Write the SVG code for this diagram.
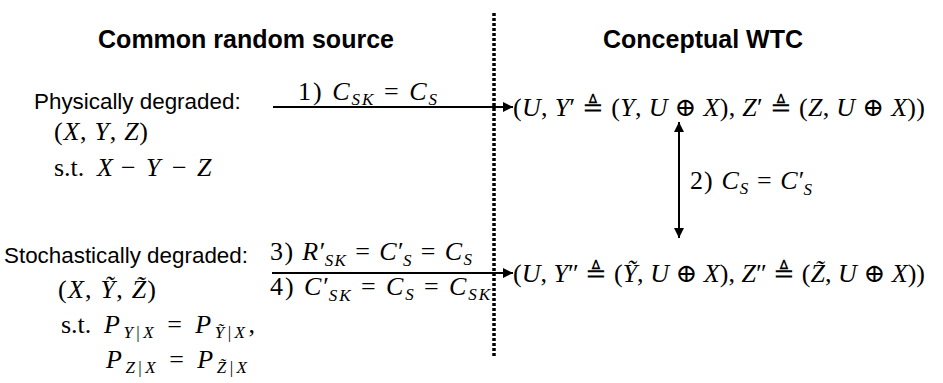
<svg xmlns="http://www.w3.org/2000/svg" width="943" height="383" viewBox="0 0 943 383">
<style>
.title{font-family:"Liberation Sans",Arial,sans-serif;font-weight:bold;font-size:25px;fill:#000}
.lbl{font-family:"Liberation Sans",Arial,sans-serif;font-size:22.4px;fill:#000}
.m{font-family:"Liberation Serif","DejaVu Serif",serif;font-size:26px;fill:#000}
.i{font-style:italic}
.s{font-size:17px}
.conn{stroke:#000;stroke-width:2;fill:none}
.dot{stroke:#000;stroke-width:3.5;stroke-dasharray:3 2;fill:none}
</style>
<defs>
<marker id="ah" viewBox="0 0 10 10" refX="10" refY="5" markerWidth="5" markerHeight="5" orient="auto-start-reverse" markerUnits="strokeWidth">
<path d="M0,0 L10,5 L0,10 z" fill="#000"/>
</marker>
</defs>
<rect width="943" height="383" fill="#fff"/>

<g id="titles">
<text class="title" x="246" y="48" text-anchor="middle">Common random source</text>
<text class="title" x="703" y="48" text-anchor="middle">Conceptual WTC</text>
</g>

<g id="divider">
<line class="dot" x1="494" y1="13" x2="494" y2="358"/>
</g>

<g id="connectors">
<line class="conn" x1="273" y1="107" x2="513" y2="107" marker-end="url(#ah)"/>
<line class="conn" x1="272" y1="273" x2="513" y2="273" marker-end="url(#ah)"/>
<line class="conn" x1="679" y1="122" x2="679" y2="238" marker-start="url(#ah)" marker-end="url(#ah)"/>
<text class="m" x="298" y="100" textLength="139">1) <tspan class="i">C</tspan><tspan class="s i" dy="5">SK</tspan><tspan dy="-5"> = </tspan><tspan class="i">C</tspan><tspan class="s i" dy="5">S</tspan></text>
<text class="m" x="270" y="260" textLength="202">3) <tspan class="i">R</tspan>′<tspan class="s i" dy="6" dx="-2">SK</tspan><tspan dy="-6"> = </tspan><tspan class="i">C</tspan>′<tspan class="s i" dy="6" dx="-2">S</tspan><tspan dy="-6"> = </tspan><tspan class="i">C</tspan><tspan class="s i" dy="5">S</tspan></text>
<text class="m" x="270" y="295" textLength="220">4) <tspan class="i">C</tspan>′<tspan class="s i" dy="6" dx="-2">SK</tspan><tspan dy="-6"> = </tspan><tspan class="i">C</tspan><tspan class="s i" dy="5">S</tspan><tspan dy="-5"> = </tspan><tspan class="i">C</tspan><tspan class="s i" dy="5">SK</tspan></text>
<text class="m" x="690" y="189" textLength="122">2) <tspan class="i">C</tspan><tspan class="s i" dy="5">S</tspan><tspan dy="-5"> = </tspan><tspan class="i">C</tspan>′<tspan class="s i" dy="6" dx="-2">S</tspan></text>
</g>

<g id="node-physical">
<text class="lbl" x="34" y="109">Physically degraded:</text>
<text class="m" x="54" y="140" textLength="94">(<tspan class="i">X</tspan>, <tspan class="i">Y</tspan>, <tspan class="i">Z</tspan>)</text>
<text class="m" y="176"><tspan x="54">s.t.</tspan><tspan class="i" x="97">X</tspan><tspan x="121">−</tspan><tspan class="i" x="146">Y</tspan><tspan x="172">−</tspan><tspan class="i" x="197">Z</tspan></text>
</g>

<g id="node-stochastic">
<text class="lbl" x="4" y="263">Stochastically degraded:</text>
<text class="m" x="58" y="298" textLength="98">(<tspan class="i">X</tspan>, <tspan class="i">Ỹ</tspan>, <tspan class="i">Z̃</tspan>)</text>
<text class="m" x="61" y="333">s.t.</text>
<text class="m" x="104" y="333" textLength="151"><tspan class="i">P</tspan><tspan class="s" dy="5"><tspan class="i">Y</tspan>|<tspan class="i">X</tspan></tspan><tspan dy="-5"> = </tspan><tspan class="i">P</tspan><tspan class="s" dy="5"><tspan class="i">Ỹ</tspan>|<tspan class="i">X</tspan></tspan><tspan dy="-5">,</tspan></text>
<text class="m" x="106" y="368" textLength="141"><tspan class="i">P</tspan><tspan class="s" dy="5"><tspan class="i">Z</tspan>|<tspan class="i">X</tspan></tspan><tspan dy="-5"> = </tspan><tspan class="i">P</tspan><tspan class="s" dy="5"><tspan class="i">Z̃</tspan>|<tspan class="i">X</tspan></tspan></text>
</g>

<g id="node-wtc1">
<text class="m" x="513" y="116" textLength="412">(<tspan class="i">U</tspan>, <tspan class="i">Y</tspan>′ ≜ (<tspan class="i">Y</tspan>, <tspan class="i">U</tspan> ⊕ <tspan class="i">X</tspan>), <tspan class="i">Z</tspan>′ ≜ (<tspan class="i">Z</tspan>, <tspan class="i">U</tspan> ⊕ <tspan class="i">X</tspan>))</text>
</g>

<g id="node-wtc2">
<text class="m" x="513" y="282" textLength="412">(<tspan class="i">U</tspan>, <tspan class="i">Y</tspan>″ ≜ (<tspan class="i">Ỹ</tspan>, <tspan class="i">U</tspan> ⊕ <tspan class="i">X</tspan>), <tspan class="i">Z</tspan>″ ≜ (<tspan class="i">Z̃</tspan>, <tspan class="i">U</tspan> ⊕ <tspan class="i">X</tspan>))</text>
</g>
</svg>
